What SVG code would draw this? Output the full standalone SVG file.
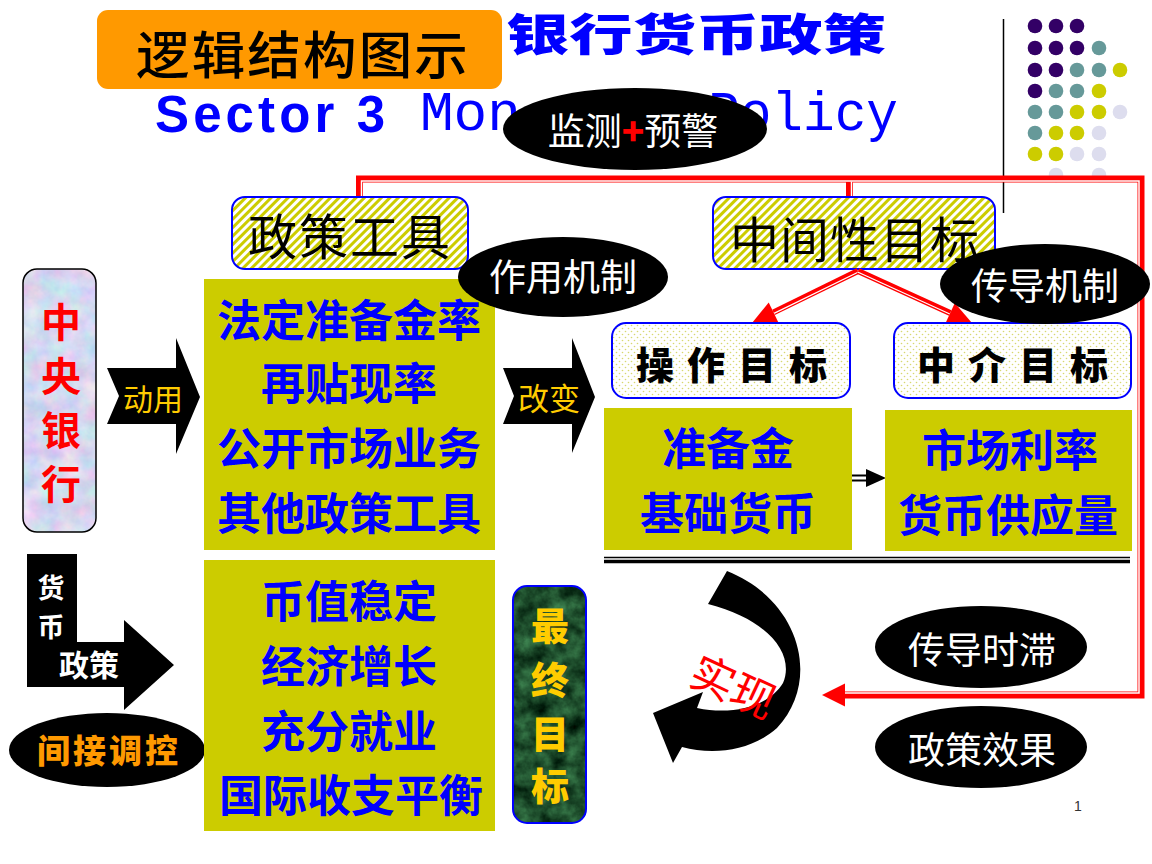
<svg xmlns="http://www.w3.org/2000/svg" width="1152" height="864" viewBox="0 0 1152 864">
<defs>
  <style>
    .cjk{font-family:"Noto Sans CJK SC",sans-serif;}
    .kai{font-family:"Noto Sans CJK SC",sans-serif;font-weight:700;fill:#0000FF;font-size:44px;text-anchor:middle;}
    .ellt{font-family:"Noto Sans CJK SC",sans-serif;fill:#FFFFFF;font-size:37px;text-anchor:middle;}
    .gbox{fill:#CCCC00;}
    .hdr{fill:url(#stripes);stroke:#0000FF;stroke-width:2;}
    .sub{fill:url(#dots);stroke:#0000FF;stroke-width:2;}
    .redthick{fill:none;stroke:#FF0000;stroke-width:7;}
    .redgap{fill:none;stroke:#FFFFFF;stroke-width:1.5;}
    .gold{fill:#FFCC00;font-family:"Noto Sans CJK SC",sans-serif;text-anchor:middle;}
    .dp{fill:#330066;} .dt{fill:#669999;} .dy{fill:#CCCC00;} .dl{fill:#DDDDEE;}
  </style>
  <pattern id="stripes" width="6" height="6" patternUnits="userSpaceOnUse" patternTransform="rotate(45)">
    <rect width="6" height="6" fill="#FFFFFF"/>
    <rect width="3" height="6" fill="#CCCC00"/>
  </pattern>
  <pattern id="dots" width="6" height="6" patternUnits="userSpaceOnUse">
    <rect width="6" height="6" fill="#FFFFFF"/>
    <circle cx="1.5" cy="1.5" r="0.8" fill="#D8D870"/>
    <circle cx="4.5" cy="4.5" r="0.8" fill="#D8D870"/>
  </pattern>
  <filter id="texBlue" x="0" y="0" width="1" height="1" color-interpolation-filters="sRGB">
    <feTurbulence type="fractalNoise" baseFrequency="0.05" numOctaves="4" seed="3" result="n"/>
    <feColorMatrix in="n" type="matrix" values="0.35 0 0 0 0.66  0 0.25 0 0 0.72  0 0 0.12 0 0.88  0 0 0 0 1" result="c"/>
    <feComposite in="c" in2="SourceGraphic" operator="in"/>
  </filter>
  <filter id="texGreen" x="0" y="0" width="1" height="1" color-interpolation-filters="sRGB">
    <feTurbulence type="fractalNoise" baseFrequency="0.06" numOctaves="4" seed="7" result="n"/>
    <feColorMatrix in="n" type="matrix" values="0.35 0 0 0 -0.06  0.6 0 0 0 0.0  0.4 0 0 0 -0.03  0 0 0 0 1" result="c"/>
    <feComposite in="c" in2="SourceGraphic" operator="in"/>
  </filter>
</defs>

<rect width="1152" height="864" fill="#FFFFFF"/>

<!-- decorative dots -->
<g id="decor-dots">
  <circle class="dp" cx="1035" cy="26" r="7.3"/><circle class="dp" cx="1056" cy="26" r="7.3"/><circle class="dp" cx="1077" cy="26" r="7.3"/>
  <circle class="dp" cx="1035" cy="48" r="7.3"/><circle class="dp" cx="1056" cy="48" r="7.3"/><circle class="dp" cx="1077" cy="48" r="7.3"/><circle class="dt" cx="1099" cy="48" r="7.3"/>
  <circle class="dp" cx="1035" cy="70" r="7.3"/><circle class="dp" cx="1056" cy="70" r="7.3"/><circle class="dt" cx="1077" cy="70" r="7.3"/><circle class="dt" cx="1099" cy="70" r="7.3"/><circle class="dy" cx="1120" cy="70" r="7.3"/>
  <circle class="dp" cx="1035" cy="91" r="7.3"/><circle class="dt" cx="1056" cy="91" r="7.3"/><circle class="dt" cx="1077" cy="91" r="7.3"/><circle class="dy" cx="1099" cy="91" r="7.3"/>
  <circle class="dt" cx="1035" cy="112" r="7.3"/><circle class="dt" cx="1056" cy="112" r="7.3"/><circle class="dy" cx="1077" cy="112" r="7.3"/><circle class="dy" cx="1099" cy="112" r="7.3"/><circle class="dl" cx="1120" cy="112" r="7.3"/>
  <circle class="dt" cx="1035" cy="133" r="7.3"/><circle class="dy" cx="1056" cy="133" r="7.3"/><circle class="dy" cx="1077" cy="133" r="7.3"/><circle class="dl" cx="1099" cy="133" r="7.3"/>
  <circle class="dy" cx="1035" cy="154" r="7.3"/><circle class="dy" cx="1056" cy="154" r="7.3"/><circle class="dl" cx="1077" cy="154" r="7.3"/><circle class="dl" cx="1099" cy="154" r="7.3"/>
  <circle class="dl" cx="1056" cy="175" r="7.3"/><circle class="dl" cx="1099" cy="175" r="7.3"/>
  <line x1="1003.5" y1="19" x2="1003.5" y2="213" stroke="#000" stroke-width="1.5"/>
</g>

<!-- title -->
<g id="title">
  <rect x="97" y="10" width="405" height="79" rx="11" fill="#FF9900"/>
  <text class="cjk" x="136" y="74" font-size="51" font-weight="500" letter-spacing="2" fill="#000" textLength="334" lengthAdjust="spacingAndGlyphs">逻辑结构图示</text>
  <text class="cjk" x="506" y="51" font-size="44" font-weight="900" fill="#0000FF" textLength="380" lengthAdjust="spacingAndGlyphs">银行货币政策</text>
  <text x="155" y="132" font-family="Liberation Sans, Arial, sans-serif" font-weight="bold" font-size="51" fill="#0000FF" textLength="230" lengthAdjust="spacing">Sector 3</text>
  <text x="420" y="130" font-family="Liberation Mono, Courier New, monospace" font-size="56" fill="#0000FF">Mon</text>
  <text x="708" y="130" font-family="Liberation Mono, Courier New, monospace" font-size="56" fill="#0000FF" textLength="190" lengthAdjust="spacingAndGlyphs">Policy</text>
</g>

<g id="monitor">
  <ellipse cx="635" cy="129" rx="132" ry="41" fill="#000"/>
  <text class="ellt" x="633" y="145" font-size="36">监测<tspan fill="#FF0000" font-weight="900">+</tspan>预警</text>
</g>

<!-- connectors -->
<g id="connectors">
  <path class="redthick" d="M359.5 197 V179 H1141 V695 H842"/>
  <path class="redthick" d="M849.5 179 V197"/>
  <path class="redgap" d="M361.5 197 V181 H1139 V693 H842"/>
  <path class="redgap" d="M851.5 181.5 V197"/>
  <polygon points="822,695 845,683.5 845,706.5" fill="#FF0000"/>
</g>

<!-- left: central bank -->
<g id="central-bank">
  <rect x="23" y="269" width="73" height="263" rx="14" fill="#D8DCF4" filter="url(#texBlue)"/>
  <rect x="23" y="269" width="73" height="263" rx="14" fill="none" stroke="#000" stroke-width="1.5"/>
  <g class="cjk" fill="#FF0000" font-size="40" font-weight="700" text-anchor="middle">
    <text x="61" y="337">中</text>
    <text x="61" y="391">央</text>
    <text x="61" y="445">银</text>
    <text x="61" y="499">行</text>
  </g>
</g>

<g id="arrow-use">
  <polygon points="107,368 176,368 176,338 200,397 176,454 176,424 107,424 119,396" fill="#000"/>
  <text class="gold" x="153" y="410" font-size="30">动用</text>
</g>

<g id="policy-tools-header">
  <rect class="hdr" x="232" y="197" width="236" height="72" rx="13"/>
  <text class="cjk" x="350" y="255" font-size="49" letter-spacing="2" text-anchor="middle" fill="#000">政策工具</text>
</g>

<g id="policy-tools">
  <rect class="gbox" x="204" y="279" width="291" height="271"/>
  <text class="kai" x="349" y="337">法定准备金率</text>
  <text class="kai" x="349" y="400">再贴现率</text>
  <text class="kai" x="349" y="465">公开市场业务</text>
  <text class="kai" x="349" y="530">其他政策工具</text>
</g>

<g id="arrow-change">
  <polygon points="503,368 572,368 572,338 595,397 572,453 572,424 503,424 514,396" fill="#000"/>
  <text class="gold" x="549" y="410" font-size="31">改变</text>
</g>

<g id="intermediate-header">
  <rect class="hdr" x="713" y="197" width="282" height="72" rx="13"/>
  <text class="cjk" x="855" y="258" font-size="49" letter-spacing="1" text-anchor="middle" fill="#000">中间性目标</text>
</g>

<g id="red-arrows">
  <line x1="858" y1="271" x2="773.5" y2="312.4" stroke="#FF0000" stroke-width="6"/>
  <line x1="858.5" y1="272" x2="774" y2="313.4" stroke="#FFFFFF" stroke-width="1.2"/>
  <polygon points="752,323 778.3,322.3 768.7,302.5" fill="#FF0000"/>
  <line x1="858" y1="271" x2="950.2" y2="313" stroke="#FF0000" stroke-width="6"/>
  <line x1="857.6" y1="272" x2="949.8" y2="314" stroke="#FFFFFF" stroke-width="1.2"/>
  <polygon points="972,323 945.6,323 954.8,303" fill="#FF0000"/>
</g>

<g id="operating-target">
  <rect class="sub" x="612" y="323" width="238" height="75" rx="14"/>
  <text class="cjk" x="738" y="379" font-size="38" font-weight="900" letter-spacing="13" text-anchor="middle" fill="#000">操作目标</text>
</g>

<g id="intermediary-target">
  <rect class="sub" x="894" y="323" width="237" height="75" rx="14"/>
  <text class="cjk" x="1019" y="379" font-size="38" font-weight="900" letter-spacing="13" text-anchor="middle" fill="#000">中介目标</text>
</g>

<g id="reserves">
  <rect class="gbox" x="604" y="408" width="248" height="142"/>
  <text class="kai" x="728" y="465" font-size="42">准备金</text>
  <text class="kai" x="728" y="530" font-size="42">基础货币</text>
</g>

<g id="small-arrow">
  <line x1="852" y1="475.5" x2="868" y2="475.5" stroke="#000" stroke-width="2"/>
  <line x1="852" y1="480.5" x2="868" y2="480.5" stroke="#000" stroke-width="2"/>
  <polygon points="866,469 886,478 866,487" fill="#000"/>
</g>

<g id="market-rate">
  <rect class="gbox" x="885" y="410" width="247" height="141"/>
  <text class="kai" x="1010" y="467" font-size="42">市场利率</text>
  <text class="kai" x="1008" y="532" font-size="42">货币供应量</text>
</g>

<g id="double-rule">
  <line x1="604" y1="557.5" x2="1130" y2="557.5" stroke="#000" stroke-width="1.5"/>
  <line x1="604" y1="561.5" x2="1130" y2="561.5" stroke="#000" stroke-width="3.5"/>
</g>

<g id="monetary-policy-arrow">
  <polygon points="27,554 77,554 77,642 124,642 124,620 174,665 124,710 124,687 27,687" fill="#000"/>
  <text class="cjk" x="51" y="598" font-size="27" font-weight="700" fill="#FFF" text-anchor="middle">货</text>
  <text class="cjk" x="51" y="637" font-size="27" font-weight="700" fill="#FFF" text-anchor="middle">币</text>
  <text class="cjk" x="89" y="676" font-size="30" font-weight="700" fill="#FFF" text-anchor="middle">政策</text>
</g>

<g id="indirect-control">
  <ellipse cx="107" cy="750" rx="98" ry="37" fill="#000"/>
  <text class="cjk" x="109" y="763" font-size="33" font-weight="900" letter-spacing="3" fill="#FF9900" text-anchor="middle">间接调控</text>
</g>

<g id="final-goals-list">
  <rect class="gbox" x="204" y="560" width="291" height="271"/>
  <text class="kai" x="349" y="618">币值稳定</text>
  <text class="kai" x="349" y="683">经济增长</text>
  <text class="kai" x="349" y="748">充分就业</text>
  <text class="kai" x="351" y="812">国际收支平衡</text>
</g>

<g id="final-goal">
  <rect x="513" y="586" width="73" height="237" rx="14" fill="#1E4A2C" filter="url(#texGreen)"/>
  <rect x="513" y="586" width="73" height="237" rx="14" fill="none" stroke="#0000FF" stroke-width="2"/>
  <g class="gold" font-size="38" font-weight="900">
    <text x="550" y="640">最</text>
    <text x="550" y="694">终</text>
    <text x="550" y="748">目</text>
    <text x="550" y="800">标</text>
  </g>
</g>

<g id="realize">
  <path d="M727 571 C800 600 822 680 777 728 C750 752 712 755 682 747 L673 763 L653 713 L703 692 L697 708 C735 716 770 705 783 683 C795 655 770 620 708 604 Z" fill="#000"/>
  <text class="cjk" transform="translate(733 688) rotate(25)" x="0" y="15" font-size="44" fill="#FF0000" text-anchor="middle">实现</text>
</g>

<g id="mechanism">
  <ellipse cx="563" cy="277" rx="105" ry="40" fill="#000"/>
  <text class="ellt" x="563" y="291">作用机制</text>
</g>

<g id="transmission">
  <ellipse cx="1045" cy="284" rx="105" ry="40" fill="#000"/>
  <text class="ellt" x="1045" y="300">传导机制</text>
</g>

<g id="lag">
  <ellipse cx="981" cy="647" rx="106" ry="41" fill="#000"/>
  <text class="ellt" x="982" y="664">传导时滞</text>
</g>

<g id="effect">
  <ellipse cx="981" cy="747" rx="106" ry="41" fill="#000"/>
  <text class="ellt" x="982" y="764">政策效果</text>
</g>

<text x="1078" y="811" font-family="Liberation Sans, Arial, sans-serif" font-size="14" fill="#333" text-anchor="middle">1</text>
</svg>
